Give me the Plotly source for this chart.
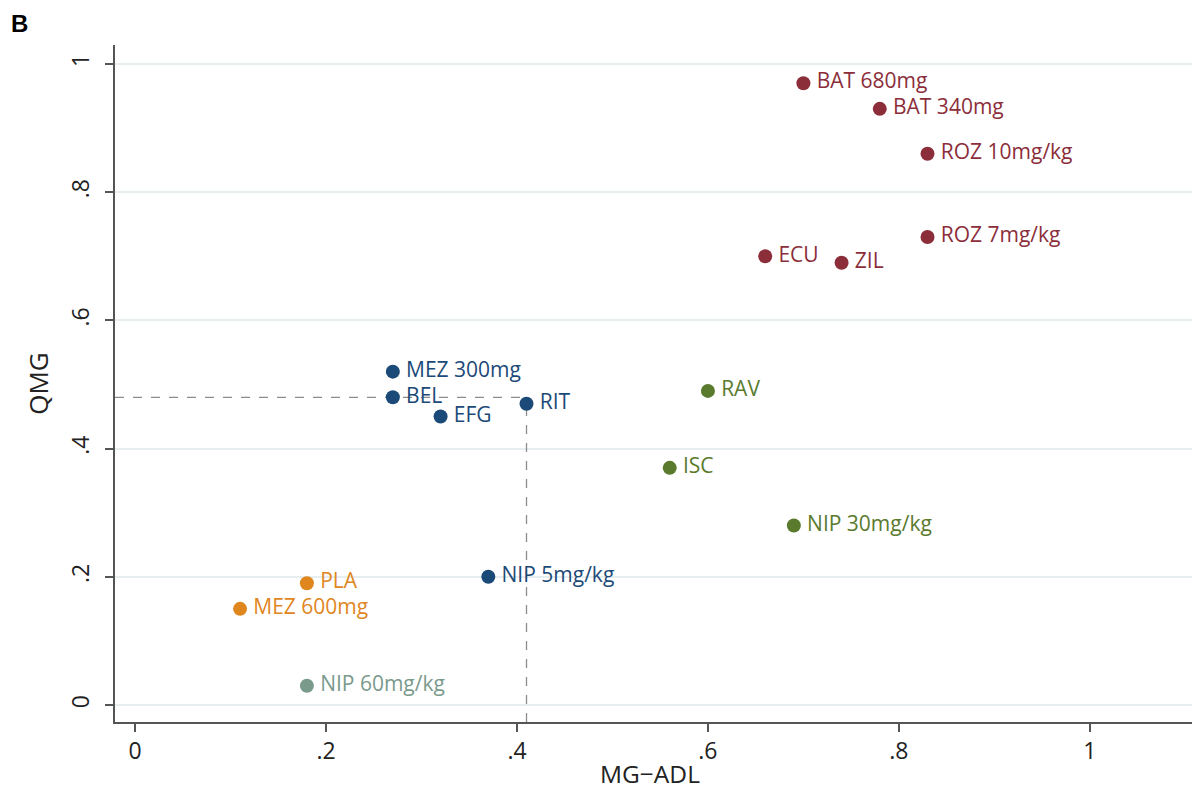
import plotly.graph_objects as go

# Treatments grouped by colour cluster
groups = {
    "red": {
        "labels": ["BAT 680mg", "BAT 340mg", "ROZ 10mg/kg", "ROZ 7mg/kg", "ECU", "ZIL"],
        "mgadl": [0.70, 0.78, 0.83, 0.83, 0.66, 0.74],
        "qmg": [0.97, 0.93, 0.86, 0.73, 0.70, 0.69],
        "color": "#8B2E3A",
    },
    "blue": {
        "labels": ["MEZ 300mg", "BEL", "EFG", "RIT", "NIP 5mg/kg"],
        "mgadl": [0.27, 0.27, 0.32, 0.41, 0.37],
        "qmg": [0.52, 0.48, 0.45, 0.47, 0.20],
        "color": "#1C4A78",
    },
    "green": {
        "labels": ["RAV", "ISC", "NIP 30mg/kg"],
        "mgadl": [0.60, 0.56, 0.69],
        "qmg": [0.49, 0.37, 0.28],
        "color": "#5A7A2E",
    },
    "orange": {
        "labels": ["PLA", "MEZ 600mg"],
        "mgadl": [0.18, 0.11],
        "qmg": [0.19, 0.15],
        "color": "#E0861E",
    },
    "grey": {
        "labels": ["NIP 60mg/kg"],
        "mgadl": [0.18],
        "qmg": [0.03],
        "color": "#7A9A8C",
    },
}

# Reference lines (dashed)
ref_x = 0.41
ref_y = 0.48

tick_vals = [0, 0.2, 0.4, 0.6, 0.8, 1]
tick_text = ["0", ".2", ".4", ".6", ".8", "1"]

x_range = [-0.021, 1.107]
y_range = [-0.0265, 1.0296]

fig = go.Figure()

# dashed reference lines
fig.add_trace(go.Scatter(
    x=[x_range[0], ref_x], y=[ref_y, ref_y], mode="lines",
    line=dict(color="#8C8C8C", width=1.3, dash="dash"), showlegend=False, hoverinfo="skip",
))
fig.add_trace(go.Scatter(
    x=[ref_x, ref_x], y=[y_range[0], ref_y], mode="lines",
    line=dict(color="#8C8C8C", width=1.3, dash="dash"), showlegend=False, hoverinfo="skip",
))

for name, g in groups.items():
    fig.add_trace(go.Scatter(
        x=g["mgadl"], y=g["qmg"], mode="markers+text", name=name,
        text=["\u2009" + s for s in g["labels"]], textposition="middle right",
        textfont=dict(family="Open Sans", size=21, color=g["color"]),
        marker=dict(size=14, color=g["color"]),
        showlegend=False,
    ))

# panel letter
fig.add_annotation(
    text="<b>B</b>", xref="paper", yref="paper", x=-0.098, y=1.054,
    xanchor="left", yanchor="top", showarrow=False,
    font=dict(family="Liberation Sans", size=24, color="black"),
)
# x-axis title, placed below the tick labels
fig.add_annotation(
    text="MG−ADL", xref="paper", yref="paper", x=0.497, y=-0.1035,
    xanchor="center", yanchor="bottom", showarrow=False,
    font=dict(family="Open Sans", size=24.5, color="#222222"),
)

axis_common = dict(
    showline=True, linecolor="#555555", linewidth=1.5,
    ticks="outside", ticklen=8, tickcolor="#555555", tickwidth=1.5,
    tickvals=tick_vals, ticktext=tick_text, zeroline=False,
    tickfont=dict(family="Open Sans", size=23, color="#222222"),
)

fig.update_xaxes(**axis_common, range=x_range, showgrid=False)
fig.update_yaxes(
    **axis_common, range=y_range, showgrid=True, gridcolor="#E6EEF0", gridwidth=1.5,
    tickangle=-90, ticklabelstandoff=7,
    title=dict(text="QMG", font=dict(family="Open Sans", size=26, color="#222222"), standoff=8),
)

fig.update_layout(
    width=1192, height=793,
    margin=dict(l=115, r=0, t=45, b=71),
    plot_bgcolor="white", paper_bgcolor="white",
)

fig.write_html("out.html")
